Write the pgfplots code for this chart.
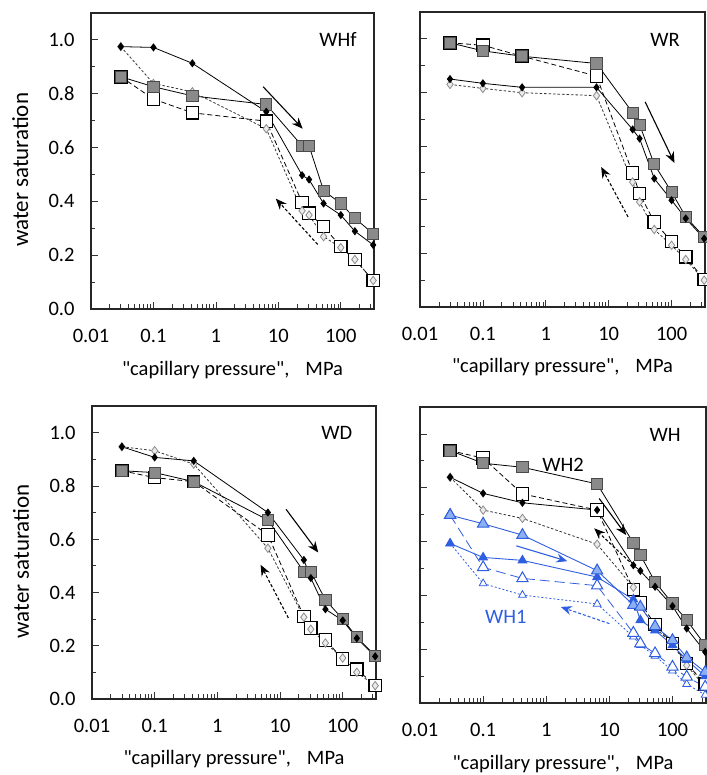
\documentclass[border=0pt]{standalone}
\usepackage{fontspec}
\setmainfont{Carlito}[Ligatures=TeXOff]
\usepackage{pgfplots}
\usepackage{pgfplotstable}
\pgfplotsset{compat=1.18}
\usetikzlibrary{arrows.meta}
\definecolor{SqGray}{HTML}{8A8A8A}
\definecolor{SqEdge}{HTML}{4A4A4A}
\definecolor{DiaGray}{HTML}{8C8C8C}
\definecolor{WBlue}{HTML}{2F5FE0}
\definecolor{WLight}{HTML}{8DB0F2}

% p = "capillary pressure" (MPa); bd/gs solid (drying), os/od dashed (wetting)
\pgfplotstableread{
p     bd     gs     os     od
0.03  0.975  0.863  0.863  0.975
0.1   0.972  0.826  0.780  0.838
0.42  0.913  0.792  0.729  0.807
6.4   0.733  0.760  0.698  0.670
24    0.497  0.606  0.396  0.365
31    0.481  0.606  0.356  0.349
53    0.392  0.440  0.306  0.269
100   0.349  0.392  0.232  0.228
168   0.289  0.337  0.184  0.184
330   0.238  0.280  0.106  0.106
}\tabWHf
\pgfplotstableread{
p     bd     gs     os     od
0.03  0.850  0.985  0.985  0.830
0.1   0.834  0.955  0.976  0.815
0.42  0.819  0.935  0.935  0.799
6.4   0.819  0.908  0.861  0.788
24    0.662  0.725  0.500  0.466
31    0.628  0.680  0.423  0.392
53    0.479  0.532  0.317  0.289
100   0.398  0.429  0.245  0.230
168   0.330  0.336  0.187  0.177
330   0.255  0.261  0.102  0.100
}\tabWR
\pgfplotstableread{
p     bd     gs     os     od
0.03  0.947  0.857  0.857  0.947
0.1   0.907  0.850  0.831  0.932
0.42  0.894  0.816  0.816  0.882
6.4   0.700  0.672  0.616  0.566
24    0.522  0.478  0.310  0.307
31    0.454  0.478  0.266  0.262
53    0.337  0.372  0.222  0.210
100   0.295  0.300  0.150  0.154
168   0.228  0.232  0.112  0.100
330   0.160  0.163  0.050  0.050
}\tabWD
\pgfplotstableread{
p     bd     gs     os     od     lt     ft     wt     st
0.03  0.839  0.938  0.938  0.839  0.698  0.593  0.698  0.593
0.1   0.779  0.891  0.910  0.717  0.666  0.541  0.504  0.444
0.42  0.744  0.876  0.777  0.686  0.624  0.530  0.463  0.401
6.4   0.717  0.814  0.717  0.590  0.492  0.468  0.436  0.368
24    0.512  0.595  0.422  0.430  0.364  0.385  0.260  0.246
31    0.491  0.550  0.372  0.360  0.357  0.308  0.221  0.215
53    0.432  0.450  0.292  0.280  0.285  0.270  0.184  0.175
100   0.360  0.370  0.221  0.220  0.233  0.215  0.134  0.120
168   0.277  0.308  0.147  0.140  0.169  0.160  0.097  0.070
330   0.190  0.215  0.070  0.060  0.115  0.100  0.060  0.030
}\tabWH

% settings shared by all four panels
\pgfplotsset{
    scale only axis,
    xmin=0.01, xmax=340, ymin=0, ymax=1.1,
    xtick={0.01,0.1,1,10,100},
    xticklabels={0.01,0.1,1,10,100},
    minor xtick={0.02,0.03,0.04,0.05,0.06,0.07,0.08,0.09,
                 0.2,0.3,0.4,0.5,0.6,0.7,0.8,0.9,
                 2,3,4,5,6,7,8,9,20,30,40,50,60,70,80,90,200,300},
    ytick={0,0.2,0.4,0.6,0.8,1.0},
    minor ytick={0.1,0.3,0.5,0.7,0.9},
    tick pos=left, tick align=inside,
    major tick length=7pt, minor tick length=4.5pt,
    tick style={black!80, line width=0.8pt},
    axis line style={black!85, line width=1.1pt},
    ticklabel style={font=\fontsize{20.5}{24}\selectfont},
    xticklabel style={yshift=-17pt},
    yticklabel style={xshift=-13pt,
      /pgf/number format/fixed, /pgf/number format/fixed zerofill,
      /pgf/number format/precision=1, /pgf/number format/assume math mode=true},
    xlabel={"capillary pressure",\hspace{16pt}MPa},
    xlabel style={at={(axis description cs:0.5,-0.205)}, anchor=center,
                  font=\fontsize{20.5}{24}\selectfont},
    ylabel style={at={(axis description cs:-0.250,0.47)}, anchor=center,
                  rotate=0, font=\fontsize{23}{26}\selectfont},
    clip=false,
    bdp/.style={black, line width=0.8pt, mark=diamond*, mark size=3.5pt,
                mark options={solid, fill=black, draw=black}},
    gsp/.style={black, line width=0.8pt, mark=square*, mark size=5.6pt,
                mark options={solid, fill=SqGray, draw=SqEdge, line width=0.9pt}},
    osp/.style={black, line width=0.8pt, dash pattern=on 5pt off 3pt, mark=square*,
                mark size=6.2pt, mark options={solid, fill=white, draw=black, line width=1.1pt}},
    odp/.style={black!80, line width=0.8pt, dash pattern=on 2.5pt off 2pt, mark=diamond*,
                mark size=4.2pt, mark options={solid, fill=black!8, draw=DiaGray, line width=0.8pt}},
}
\tikzset{lab/.style={font=\fontsize{20.5}{24}\selectfont},
         arr/.style={line width=1.1pt,-{Stealth[length=11pt,width=9pt]}},
         darr/.style={arr, dash pattern=on 3pt off 2pt}}

\begin{document}
\begin{tikzpicture}
\useasboundingbox (0pt,0pt) rectangle (706pt,775pt);

% ---- WHf
\begin{semilogxaxis}[at={(91pt,466pt)}, anchor=south west, width=283pt, height=296pt,
             ylabel={water saturation}]
\addplot[osp] table[x=p,y=os] {\tabWHf};
\addplot[odp] table[x=p,y=od] {\tabWHf};
\addplot[gsp] table[x=p,y=gs] {\tabWHf};
\addplot[bdp] table[x=p,y=bd] {\tabWHf};
\node[lab] at (rel axis cs:0.873,0.909) {WHf};
\draw[arr] (axis cs:5.7,0.826) -- (axis cs:24.5,0.67);
\draw[darr] (axis cs:42.6,0.24) -- (axis cs:9.1,0.41);
\end{semilogxaxis}

% ---- WR
\begin{semilogxaxis}[at={(420pt,468pt)}, anchor=south west, width=285pt, height=295pt,
             yticklabels={}]
\addplot[osp] table[x=p,y=os] {\tabWR};
\addplot[odp] table[x=p,y=od] {\tabWR};
\addplot[gsp] table[x=p,y=gs] {\tabWR};
\addplot[bdp] table[x=p,y=bd] {\tabWR};
\node[lab] at (rel axis cs:0.86,0.905) {WR};
\draw[arr] (axis cs:38,0.765) -- (axis cs:111,0.537);
\draw[darr] (axis cs:20.3,0.336) -- (axis cs:7.6,0.522);
\end{semilogxaxis}

% ---- WD
\begin{semilogxaxis}[at={(92pt,76pt)}, anchor=south west, width=284pt, height=293pt,
             ylabel={water saturation}]
\addplot[osp] table[x=p,y=os] {\tabWD};
\addplot[odp] table[x=p,y=od] {\tabWD};
\addplot[gsp] table[x=p,y=gs] {\tabWD};
\addplot[bdp] table[x=p,y=bd] {\tabWD};
\node[lab] at (rel axis cs:0.862,0.907) {WD};
\draw[arr] (axis cs:12.5,0.712) -- (axis cs:40.7,0.55);
\draw[darr] (axis cs:13.6,0.304) -- (axis cs:4.9,0.504);
\end{semilogxaxis}

% ---- WH
\begin{semilogxaxis}[at={(420pt,72pt)}, anchor=south west, width=286pt, height=296pt,
             yticklabels={}]
\addplot[osp] table[x=p,y=os] {\tabWH};
\addplot[odp] table[x=p,y=od] {\tabWH};
\addplot[gsp] table[x=p,y=gs] {\tabWH};
\addplot[bdp] table[x=p,y=bd] {\tabWH};
\addplot[WBlue, line width=0.8pt, dash pattern=on 2pt off 2pt, mark=triangle*, mark size=4.5pt,
         mark options={solid, fill=white, draw=WBlue, line width=0.8pt}] table[x=p,y=st] {\tabWH};
\addplot[WBlue, line width=0.8pt, dash pattern=on 10pt off 5pt, mark=triangle*, mark size=6.5pt,
         mark options={solid, fill=white, draw=WBlue, line width=1pt}] table[x=p,y=wt] {\tabWH};
\addplot[WBlue, line width=0.9pt, mark=triangle*, mark size=5pt,
         mark options={solid, fill=WBlue, draw=WBlue}] table[x=p,y=ft] {\tabWH};
\addplot[WBlue, line width=0.9pt, mark=triangle*, mark size=6.5pt,
         mark options={solid, fill=WLight, draw=WBlue, line width=1pt}] table[x=p,y=lt] {\tabWH};
\node[lab] at (rel axis cs:0.857,0.905) {WH};
\node[lab] at (rel axis cs:0.50,0.804) {WH2};
\node[lab, text=WBlue] at (rel axis cs:0.30,0.29) {WH1};
\draw[arr] (axis cs:6.9,0.76) -- (axis cs:18.5,0.624);
\draw[darr] (axis cs:20.9,0.525) -- (axis cs:5.76,0.649);
\draw[arr, WBlue] (axis cs:0.336,0.584) -- (axis cs:2.16,0.527);
\draw[darr, WBlue] (axis cs:10,0.295) -- (axis cs:1.7,0.357);
\end{semilogxaxis}
\end{tikzpicture}
\end{document}
